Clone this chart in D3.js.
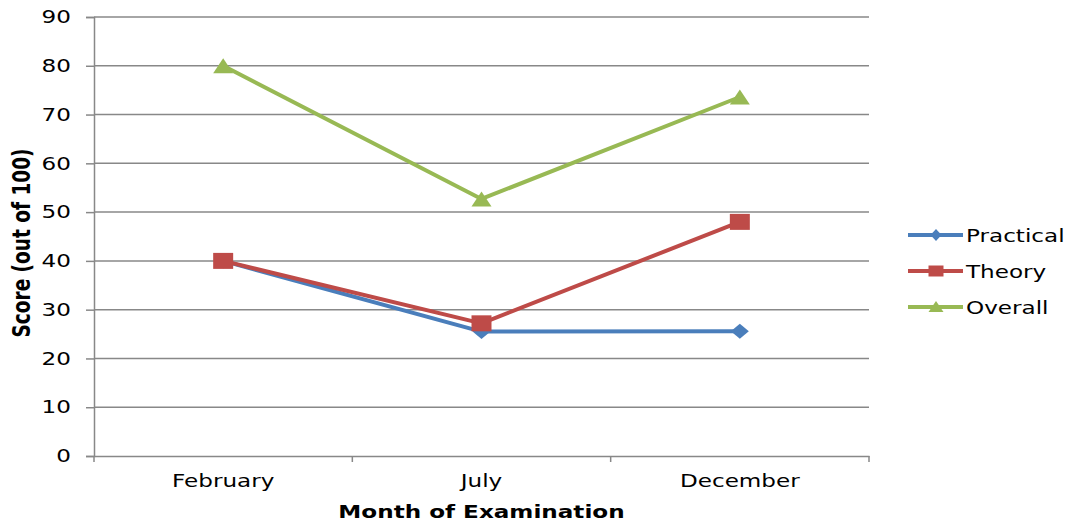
<!DOCTYPE html>
<html>
<head>
<meta charset="utf-8">
<script src="https://cdn.jsdelivr.net/npm/d3@7/dist/d3.min.js"></script>
<style>
  body { margin: 0; background: #fff; }
  svg { display: block; font-family: "DejaVu Sans", Verdana, sans-serif; }
</style>
</head>
<body>
<svg id="chart" width="1067" height="521"></svg>
<script>
// Exam scores by month
const months = ["February", "July", "December"];
const practical = [40, 25.5, 25.6];
const theory = [40, 27.2, 48];
const overall = [80, 52.7, 73.6];
const yTicks = [0, 10, 20, 30, 40, 50, 60, 70, 80, 90];

const series = [
  { name: "Practical", values: practical, color: "#4a7ebb", shape: "diamond" },
  { name: "Theory", values: theory, color: "#be4b48", shape: "square" },
  { name: "Overall", values: overall, color: "#98b954", shape: "triangle" }
];

const svg = d3.select("#chart");
const plotLeft = 94, plotRight = 869, plotTop = 17, plotBottom = 456;
const gridColor = "#888888";
const fontSize = 17.5;
const stretch = 1.32; // wide lettering, Verdana-style

const x = d3.scaleBand().domain(months).range([plotLeft, plotRight]);
const y = d3.scaleLinear().domain([0, 90]).range([plotBottom, plotTop]);

// Horizontal gridlines
svg.append("g")
  .selectAll("line")
  .data(yTicks.filter(d => d > 0))
  .join("line")
  .attr("x1", plotLeft).attr("x2", plotRight)
  .attr("y1", d => y(d)).attr("y2", d => y(d))
  .attr("stroke", gridColor).attr("stroke-width", 1.5);

// Y axis
const yAxis = svg.append("g")
  .attr("transform", `translate(${plotLeft},0)`)
  .call(d3.axisLeft(y).tickValues(yTicks).tickSize(8));
yAxis.select(".domain").attr("stroke", gridColor).attr("stroke-width", 1.5);
yAxis.selectAll(".tick line").attr("stroke", gridColor).attr("stroke-width", 1.5);
yAxis.selectAll(".tick text")
  .attr("x", null)
  .attr("dy", "0.33em")
  .attr("text-anchor", "end")
  .attr("transform", `translate(-23,0) scale(${stretch},1)`)
  .attr("font-size", fontSize).attr("fill", "#000")
  .attr("font-family", "DejaVu Sans, Verdana, sans-serif");

// X axis with tick marks on category boundaries
const xAxis = svg.append("g")
  .attr("transform", `translate(0,${plotBottom})`)
  .call(d3.axisBottom(x).tickSize(0));
xAxis.select(".domain").attr("stroke", gridColor).attr("stroke-width", 1.5);
xAxis.selectAll(".tick text")
  .attr("y", null).attr("dy", null)
  .attr("transform", `translate(0,31) scale(${stretch},1)`)
  .attr("font-size", fontSize).attr("fill", "#000")
  .attr("font-family", "DejaVu Sans, Verdana, sans-serif");
const bounds = months.map(m => x(m)).concat([x(months[months.length - 1]) + x.bandwidth()]);
svg.append("g")
  .selectAll("line")
  .data(bounds)
  .join("line")
  .attr("x1", d => d).attr("x2", d => d)
  .attr("y1", plotBottom).attr("y2", plotBottom + 6)
  .attr("stroke", gridColor).attr("stroke-width", 1.5);

// Axis titles
svg.append("text")
  .attr("transform", `translate(${x(months[1]) + x.bandwidth() / 2},518) scale(${stretch},1)`)
  .attr("text-anchor", "middle")
  .attr("font-size", fontSize).attr("font-weight", "bold")
  .text("Month of Examination");

svg.append("text")
  .attr("transform", `translate(30,243) scale(${stretch},1) rotate(-90)`)
  .attr("text-anchor", "middle")
  .attr("font-size", 18.5).attr("font-weight", "bold")
  .text("Score (out of 100)");

const cx = m => x(m) + x.bandwidth() / 2;

const markers = {
  diamond: "M0,-7.5L9,0L0,7.5L-9,0Z",
  square: "M-10,-8H10V8H-10Z",
  triangle: "M0,-7.5L10,7.5H-10Z"
};
const legendMarkers = {
  diamond: "M0,-6L5.5,0L0,6L-5.5,0Z",
  square: "M-7.5,-5.5H7.5V5.5H-7.5Z",
  triangle: "M0,-6L7.5,5H-7.5Z"
};

const line = d3.line().x((d, i) => cx(months[i])).y(d => y(d));

series.forEach(s => {
  svg.append("path")
    .datum(s.values)
    .attr("d", line)
    .attr("fill", "none")
    .attr("stroke", s.color)
    .attr("stroke-width", 4)
    .attr("stroke-linejoin", "round");
  svg.append("g")
    .selectAll("path")
    .data(s.values)
    .join("path")
    .attr("transform", (d, i) => `translate(${cx(months[i])},${y(d)})`)
    .attr("d", markers[s.shape])
    .attr("fill", s.color);
});

// Legend
const legend = svg.append("g");
series.forEach((s, i) => {
  const ly = 235 + i * 36;
  legend.append("line")
    .attr("x1", 908).attr("x2", 963)
    .attr("y1", ly).attr("y2", ly)
    .attr("stroke", s.color).attr("stroke-width", 4);
  legend.append("path")
    .attr("transform", `translate(936,${ly})`)
    .attr("d", legendMarkers[s.shape]).attr("fill", s.color);
  legend.append("text")
    .attr("transform", `translate(966,${ly + 7}) scale(${stretch},1)`)
    .attr("font-size", fontSize)
    .text(s.name);
});
</script>
</body>
</html>
